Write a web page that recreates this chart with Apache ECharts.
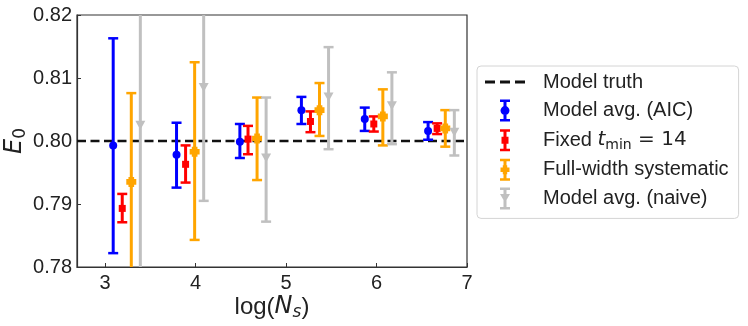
<!DOCTYPE html>
<html>
<head>
<meta charset="utf-8">
<script src="https://cdn.jsdelivr.net/npm/echarts@6/dist/echarts.min.js"></script>
<style>
  html, body { margin: 0; padding: 0; background: #fff; }
  #chart { width: 748px; height: 326px; }
</style>
</head>
<body>
<div id="chart"></div>
<script>
// axis ranges
const X_MIN = 2.69, X_MAX = 7.0
const Y_MIN = 0.78, Y_MAX = 0.82
const TRUTH = 0.80
const xTicks = [3, 4, 5, 6, 7]

// Model avg. (AIC)
const aicX  = [3.09, 3.79, 4.49, 5.17, 5.87, 6.57]
const aicY  = [0.7993, 0.7978, 0.7999, 0.8049, 0.8035, 0.8016]
const aicLo = [0.7822, 0.7926, 0.7973, 0.8027, 0.8016, 0.8002]
const aicHi = [0.8163, 0.8029, 0.8027, 0.8070, 0.8053, 0.8030]

// Fixed t_min = 14
const fixX  = [3.19, 3.89, 4.58, 5.27, 5.97, 6.67]
const fixY  = [0.7893, 0.7963, 0.8003, 0.8031, 0.8027, 0.8020]
const fixLo = [0.7871, 0.7934, 0.7979, 0.8014, 0.8015, 0.8011]
const fixHi = [0.7916, 0.7993, 0.8024, 0.8047, 0.8039, 0.8028]

// Full-width systematic
const fwX  = [3.29, 3.99, 4.68, 5.37, 6.07, 6.76]
const fwY  = [0.7935, 0.7983, 0.8004, 0.8049, 0.8039, 0.8020]
const fwLo = [0.7770, 0.7843, 0.7938, 0.8008, 0.7993, 0.7991]
const fwHi = [0.8076, 0.8125, 0.8069, 0.8092, 0.8082, 0.8049]

// Model avg. (naive)
const nvX  = [3.39, 4.09, 4.78, 5.47, 6.17, 6.86]
const nvY  = [0.8025, 0.8085, 0.7973, 0.8070, 0.8056, 0.8014]
const nvLo = [0.7700, 0.7905, 0.7872, 0.7987, 0.7995, 0.7977]
const nvHi = [0.8350, 0.8300, 0.8069, 0.8149, 0.8109, 0.8049]

const FONT = 'Liberation Sans, Arial, sans-serif'
const MATH = 'DejaVu Sans'

// legend icons: error bar (10 x 22 box) with a marker in the middle
const BAR = 'M0,0h10v2.5h-10z M3.5,0h3v22h-3z M0,19.5h10v2.5h-10z '
const ICON_TRUTH = 'path://M0,0h10v3h-10z M15,0h10v3h-10z M30,0h10v3h-10z'
const ICON_AIC = 'path://' + BAR + 'M0.5,11a4.5,4.5 0 1,1 9,0a4.5,4.5 0 1,1 -9,0z'
const ICON_FIX = 'path://' + BAR + 'M1.5,7.5h7v7h-7z'
const ICON_FW  = 'path://' + BAR + 'M2.8,6.5h4.4v2.3h2.3v4.4h-2.3v2.3h-4.4v-2.3h-2.3v-4.4h2.3z'
const ICON_NV  = 'path://' + BAR + 'M0,6.5h10l-5,8.5z'

// filled plus marker
const PLUS = 'path://M-1.7,-3H1.7V-1.7H3V1.7H1.7V3H-1.7V1.7H-3V-1.7H-1.7Z'

function errorBars(name, color, xs, lo, hi) {
  return {
    name: name,
    type: 'custom',
    clip: true,
    itemStyle: { color: color },
    encode: { x: 0, y: [1, 2] },
    data: xs.map((x, i) => [x, lo[i], hi[i]]),
    renderItem: function (params, api) {
      const x = api.value(0)
      const top = api.coord([x, api.value(2)])
      const bot = api.coord([x, api.value(1)])
      const c = api.visual('color')
      return {
        type: 'group',
        children: [
          { type: 'line', shape: { x1: top[0], y1: top[1], x2: bot[0], y2: bot[1] }, style: { stroke: c, lineWidth: 3 } },
          { type: 'line', shape: { x1: top[0] - 5, y1: top[1], x2: top[0] + 5, y2: top[1] }, style: { stroke: c, lineWidth: 2.5 } },
          { type: 'line', shape: { x1: bot[0] - 5, y1: bot[1], x2: bot[0] + 5, y2: bot[1] }, style: { stroke: c, lineWidth: 2.5 } }
        ]
      }
    }
  }
}

function markers(name, color, xs, ys, symbol, size, rotate) {
  return {
    name: name,
    type: 'scatter',
    symbol: symbol,
    symbolSize: size,
    symbolRotate: rotate || 0,
    itemStyle: { color: color, opacity: 1 },
    data: xs.map((x, i) => [x, ys[i]])
  }
}

let myChart = echarts.init(document.getElementById('chart'))

var option = {
  animation: false,
  textStyle: { fontFamily: FONT },
  grid: {
    left: 77, right: 281, top: 15, bottom: 59,
    outerBoundsMode: 'none',
    containLabel: false,
    show: true, borderColor: '#333', borderWidth: 1.2
  },
  xAxis: {
    type: 'value',
    min: X_MIN, max: X_MAX,
    splitLine: { show: false },
    axisLine: { lineStyle: { color: '#333', width: 1.2 } },
    axisTick: { inside: true, length: 4, customValues: xTicks, lineStyle: { color: '#333' } },
    axisLabel: { customValues: xTicks, fontSize: 20, color: '#222', margin: 6, fontFamily: FONT },
    name: 'log({it|N}{sub|s})',
    nameLocation: 'middle',
    nameGap: 26,
    nameMoveOverlap: false,
    nameTextStyle: {
      fontSize: 24, color: '#222', lineHeight: 28, fontFamily: FONT,
      rich: {
        it: { fontSize: 24, fontStyle: 'italic', fontFamily: MATH, color: '#222', lineHeight: 28 },
        sub: { fontSize: 17, fontStyle: 'italic', fontFamily: MATH, color: '#222', lineHeight: 16, padding: [12, 0, 0, 0] }
      }
    }
  },
  yAxis: {
    type: 'value',
    min: Y_MIN, max: Y_MAX, interval: 0.01,
    splitLine: { show: false },
    axisLine: { show: true, lineStyle: { color: '#333', width: 1.2 } },
    axisTick: { show: true, inside: true, length: 4, lineStyle: { color: '#333' } },
    axisLabel: { fontSize: 20, color: '#222', margin: 5, fontFamily: FONT, formatter: v => v.toFixed(2) },
    name: '{it|E}{sub|0}',
    nameLocation: 'middle',
    nameRotate: 90,
    nameGap: 48,
    nameMoveOverlap: false,
    nameTextStyle: {
      fontSize: 24, color: '#222', lineHeight: 28,
      rich: {
        it: { fontSize: 24, fontStyle: 'italic', fontFamily: MATH, color: '#222', lineHeight: 28 },
        sub: { fontSize: 17, fontFamily: MATH, color: '#222', lineHeight: 16, padding: [12, 0, 0, 0] }
      }
    }
  },
  legend: {
    orient: 'vertical',
    left: 477, top: 66,
    itemWidth: 40, itemHeight: 22, itemGap: 6.6,
    padding: [5, 10, 9, 8],
    borderColor: '#d4d4d4', borderWidth: 1, borderRadius: 4,
    backgroundColor: '#fff',
    symbolKeepAspect: true,
    itemStyle: { borderWidth: 0 },
    selectedMode: false,
    formatter: function (name) {
      if (name === 'Fixed') return 'Fixed {it|t}{sub|min}{eq| = 14}'
      return name
    },
    textStyle: {
      fontSize: 20, color: '#222', lineHeight: 22, padding: [0, 0, 0, 13], fontFamily: FONT,
      rich: {
        it: { fontSize: 20, fontStyle: 'italic', fontFamily: MATH, color: '#222', lineHeight: 22 },
        sub: { fontSize: 14, fontFamily: MATH, color: '#222', lineHeight: 12, padding: [10, 0, 0, 0] },
        eq: { fontSize: 20, fontFamily: MATH, color: '#222', lineHeight: 22 }
      }
    },
    data: [
      { name: 'Model truth', icon: ICON_TRUTH },
      { name: 'Model avg. (AIC)', icon: ICON_AIC },
      { name: 'Fixed', icon: ICON_FIX },
      { name: 'Full-width systematic', icon: ICON_FW },
      { name: 'Model avg. (naive)', icon: ICON_NV }
    ]
  },
  series: [
    {
      name: 'Model truth',
      type: 'custom',
      itemStyle: { color: '#111' },
      data: [[X_MIN, TRUTH]],
      renderItem: function (params, api) {
        const cs = params.coordSys
        const y = api.coord([X_MIN, api.value(1)])[1]
        return {
          type: 'line',
          shape: { x1: cs.x, y1: y, x2: cs.x + cs.width, y2: y },
          style: { stroke: '#111', lineWidth: 2.6, lineDash: [9, 4.5] }
        }
      }
    },
    errorBars('Model avg. (AIC)', '#0000ff', aicX, aicLo, aicHi),
    markers('Model avg. (AIC)', '#0000ff', aicX, aicY, 'circle', 8),
    errorBars('Fixed', '#ff0000', fixX, fixLo, fixHi),
    markers('Fixed', '#ff0000', fixX, fixY, 'rect', 7),
    errorBars('Full-width systematic', '#ffa500', fwX, fwLo, fwHi),
    markers('Full-width systematic', '#ffa500', fwX, fwY, PLUS, 10),
    errorBars('Model avg. (naive)', '#c0c0c0', nvX, nvLo, nvHi),
    markers('Model avg. (naive)', '#c0c0c0', nvX, nvY, 'triangle', [10, 9], 180)
  ]
}

myChart.setOption(option, true)
</script>
</body>
</html>
